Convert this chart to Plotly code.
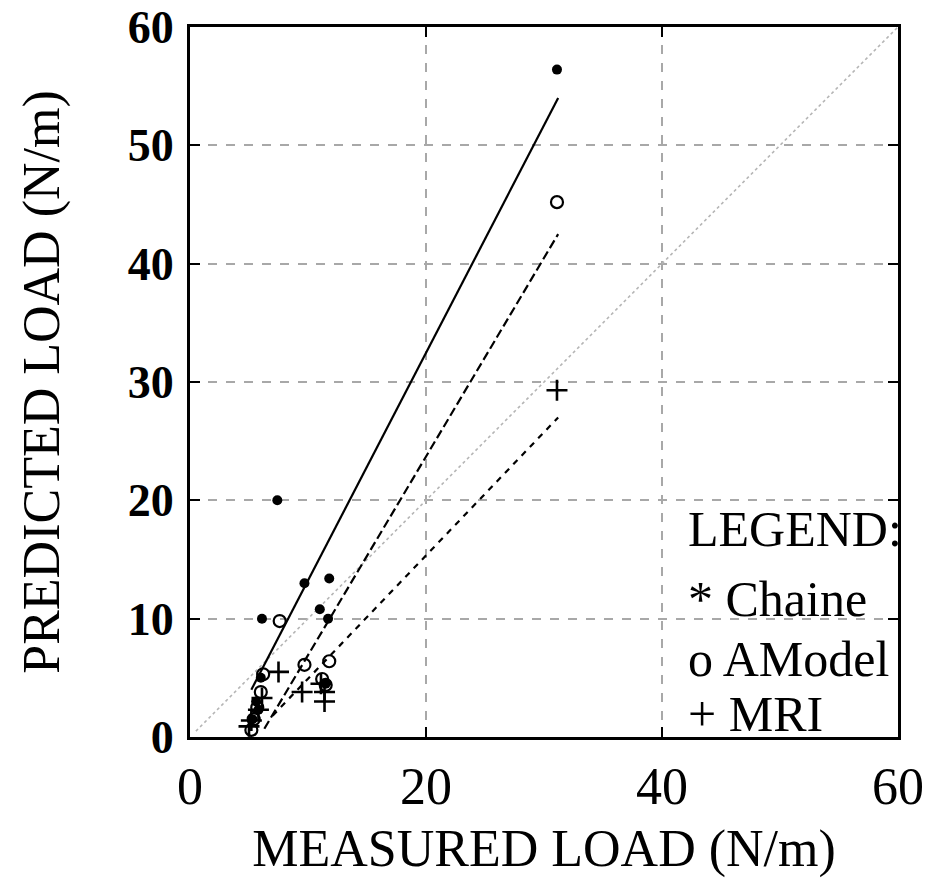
import plotly.graph_objects as go

# ---- data ----
chaine_x = [31.1, 7.4, 9.7, 11.8, 11.0, 11.7, 6.1, 11.5, 6.0, 5.6, 5.3, 5.8]
chaine_y = [56.4, 20.0, 13.0, 13.4, 10.8, 10.0, 10.0, 4.5, 5.0, 3.0, 1.5, 2.3]

amodel_x = [31.1, 7.6, 9.7, 11.8, 11.2, 11.5, 6.2, 6.0, 5.7, 5.4, 5.2]
amodel_y = [45.2, 9.8, 6.1, 6.4, 4.9, 4.4, 5.3, 3.8, 2.5, 1.5, 0.6]

mri_x = [31.1, 7.5, 9.5, 11.4, 11.4, 11.1, 6.1, 5.8, 5.2, 5.0]
mri_y = [29.3, 5.5, 3.8, 3.0, 3.8, 4.5, 3.3, 2.3, 1.4, 0.9]

chaine_fit_x = [5.2, 31.2]
chaine_fit_y = [4.0, 54.0]
amodel_fit_x = [6.3, 31.2]
amodel_fit_y = [0.7, 42.5]
mri_fit_x = [7.0, 31.2]
mri_fit_y = [1.8, 27.0]
identity_x = [0.5, 60]
identity_y = [0.5, 60]

tick_vals_x = [0, 20, 40, 60]
tick_vals_y = [0, 10, 20, 30, 40, 50, 60]

legend_lines = ["LEGEND:", "* Chaine", "o AModel", "+ MRI"]

SERIF = "Liberation Serif"

fig = go.Figure()

# identity line
fig.add_trace(go.Scatter(x=identity_x, y=identity_y, mode="lines",
                         line=dict(color="#b5b5b5", width=1.6, dash="dot"),
                         hoverinfo="skip"))
# fitted lines
fig.add_trace(go.Scatter(x=chaine_fit_x, y=chaine_fit_y, mode="lines",
                         line=dict(color="black", width=2.2)))
fig.add_trace(go.Scatter(x=amodel_fit_x, y=amodel_fit_y, mode="lines",
                         line=dict(color="black", width=2.2, dash="9px,4px")))
fig.add_trace(go.Scatter(x=mri_fit_x, y=mri_fit_y, mode="lines",
                         line=dict(color="black", width=2.2, dash="6px,6px")))

# markers
fig.add_trace(go.Scatter(x=chaine_x, y=chaine_y, mode="markers", name="Chaine",
                         marker=dict(symbol="circle", size=10, color="black")))
fig.add_trace(go.Scatter(x=amodel_x, y=amodel_y, mode="markers", name="AModel",
                         marker=dict(symbol="circle-open", size=12, color="black",
                                     line=dict(width=2.2, color="black"))))
fig.add_trace(go.Scatter(x=mri_x, y=mri_y, mode="markers", name="MRI",
                         marker=dict(symbol="cross-thin", size=15, color="black",
                                     line=dict(width=2.6, color="black"))))

# legend as text
legend_y = [0.293, 0.195, 0.11, 0.033]
for txt, yy in zip(legend_lines, legend_y):
    fig.add_annotation(x=0.700, y=yy, xref="paper", yref="paper",
                       text=txt, showarrow=False, xanchor="left", yanchor="middle",
                       font=dict(family=SERIF, size=50, color="black"))

fig.update_layout(
    width=930, height=884,
    margin=dict(l=190, r=32, t=27, b=147),
    paper_bgcolor="white", plot_bgcolor="white",
    showlegend=False,
    xaxis=dict(
        range=[0, 60], tickvals=tick_vals_x, automargin=False,
        showline=True, linecolor="black", linewidth=3, mirror="ticks",
        ticks="inside", ticklen=10, tickwidth=2, tickcolor="black",
        showgrid=True, gridcolor="#a8a8a8", gridwidth=1.5, griddash="dash",
        zeroline=False,
        tickfont=dict(family=SERIF, size=52, color="black"),
        ticklabelstandoff=2,
        title=dict(text="MEASURED LOAD (N/m)",
                   font=dict(family=SERIF, size=52, color="black"),
                   standoff=16),
    ),
    yaxis=dict(
        range=[0, 60], tickvals=tick_vals_y, automargin=False,
        showline=True, linecolor="black", linewidth=3, mirror="ticks",
        ticks="inside", ticklen=10, tickwidth=2, tickcolor="black",
        showgrid=True, gridcolor="#a8a8a8", gridwidth=1.5, griddash="dash",
        zeroline=False,
        tickfont=dict(family=SERIF, size=46, color="black", weight="bold"),
        ticklabelstandoff=4,
        title=dict(text="PREDICTED LOAD (N/m)",
                   font=dict(family=SERIF, size=52, color="black"),
                   standoff=52),
    ),
)

fig.write_html("out.html")
